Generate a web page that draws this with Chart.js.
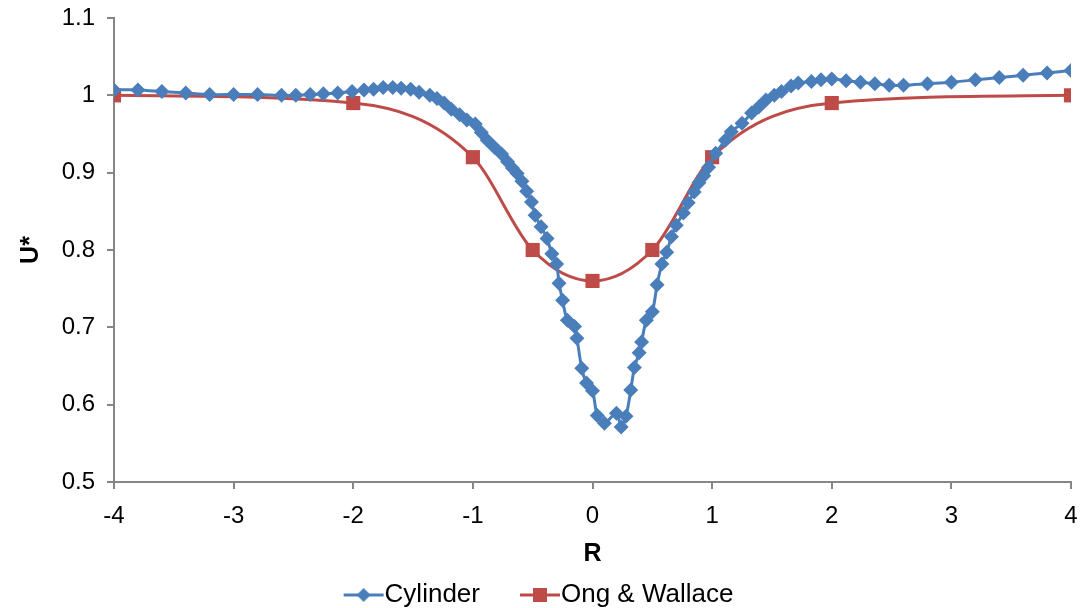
<!DOCTYPE html>
<html>
<head>
<meta charset="utf-8">
<script src="https://cdn.jsdelivr.net/npm/chart.js@4.4.1/dist/chart.umd.min.js"></script>
<style>
  body { margin: 0; background: #fff; }
  #wrap { width: 1081px; height: 608px; }
</style>
</head>
<body>
<div id="wrap"><canvas id="chart"></canvas></div>
<script>
// Cylinder profile
var cylR = [-4, -3.8, -3.6, -3.4, -3.2, -3.0, -2.8, -2.6, -2.48, -2.36, -2.25, -2.13, -2.01, -1.91, -1.83,
  -1.75, -1.67, -1.6, -1.52, -1.45, -1.36, -1.3, -1.24, -1.18, -1.11, -1.05, -0.98, -0.93, -0.88, -0.82,
  -0.76, -0.71, -0.67, -0.63, -0.59, -0.55, -0.51, -0.48, -0.43, -0.38, -0.34, -0.3, -0.28, -0.25, -0.21,
  -0.15, -0.13, -0.09, -0.05, 0.0, 0.04, 0.1, 0.2, 0.24, 0.28, 0.32, 0.35, 0.39, 0.41, 0.45, 0.5, 0.54,
  0.58, 0.62, 0.66, 0.7, 0.76, 0.8, 0.85, 0.89, 0.93, 0.97, 1.03, 1.11, 1.16, 1.25, 1.33, 1.39, 1.45,
  1.52, 1.58, 1.66, 1.72, 1.83, 1.91, 2.0, 2.12, 2.24, 2.36, 2.48, 2.6, 2.8, 3.0, 3.2, 3.4, 3.6, 3.8, 4.0];
var cylU = [1.007, 1.007, 1.005, 1.003, 1.001, 1.001, 1.001, 1.0, 1.0, 1.001, 1.002, 1.003, 1.005, 1.007, 1.008,
  1.01, 1.01, 1.009, 1.008, 1.004, 1.0, 0.996, 0.99, 0.982, 0.975, 0.968, 0.963, 0.952, 0.942, 0.933,
  0.924, 0.914, 0.906, 0.899, 0.889, 0.876, 0.862, 0.845, 0.83, 0.815, 0.795, 0.782, 0.757, 0.735, 0.709,
  0.701, 0.686, 0.647, 0.628, 0.618, 0.586, 0.576, 0.589, 0.571, 0.585, 0.619, 0.648, 0.667, 0.681, 0.709, 0.72, 0.755,
  0.782, 0.797, 0.817, 0.832, 0.848, 0.861, 0.875, 0.887, 0.896, 0.907, 0.925, 0.942, 0.953, 0.964, 0.977, 0.985, 0.994,
  1.0, 1.005, 1.012, 1.016, 1.018, 1.02, 1.021, 1.019, 1.017, 1.015, 1.013, 1.013, 1.015, 1.017, 1.02, 1.023, 1.026, 1.029, 1.032];

// Ong & Wallace
var ongR = [-4, -2, -1, -0.5, 0, 0.5, 1, 2, 4];
var ongU = [1.0, 0.99, 0.92, 0.80, 0.76, 0.80, 0.92, 0.99, 1.0];

var xTicks = [-4, -3, -2, -1, 0, 1, 2, 3, 4];
var yTicks = [0.5, 0.6, 0.7, 0.8, 0.9, 1, 1.1];

var blue = "#4A7EBB";
var red = "#BE4B48";
var axisGrey = "#868686";
var font = "'Liberation Sans', Arial, sans-serif";

function toPoints(xs, ys) {
  return xs.map(function (x, i) { return {x: x, y: ys[i]}; });
}

// line+marker icon for the legend (canvas is wider so the visible part sits next to the text)
function legendIcon(color, shape) {
  var c = document.createElement("canvas");
  c.width = 56; c.height = 20;
  var g = c.getContext("2d");
  g.strokeStyle = color; g.lineWidth = 3;
  g.beginPath(); g.moveTo(14, 10); g.lineTo(54, 10); g.stroke();
  g.fillStyle = color;
  g.beginPath();
  if (shape == "diamond") {
    g.moveTo(34, 3); g.lineTo(41, 10); g.lineTo(34, 17); g.lineTo(27, 10);
  } else {
    g.rect(27, 3, 14, 14);
  }
  g.closePath(); g.fill();
  return c;
}

var icons = [legendIcon(blue, "diamond"), legendIcon(red, "square")];

new Chart("chart", {
  type: "line",
  data: {
    datasets: [{
      label: "Cylinder",
      data: toPoints(cylR, cylU),
      borderColor: blue,
      backgroundColor: blue,
      borderWidth: 3,
      pointStyle: "rectRot",
      pointRadius: 7.5,
      pointBorderWidth: 0,
      tension: 0.3,
      fill: false
    }, {
      label: "Ong & Wallace",
      data: toPoints(ongR, ongU),
      borderColor: red,
      backgroundColor: red,
      borderWidth: 3,
      pointStyle: "rect",
      pointRadius: 10,
      pointBorderWidth: 0,
      cubicInterpolationMode: "monotone",
      fill: false
    }]
  },
  options: {
    responsive: true,
    maintainAspectRatio: false,
    animation: false,
    layout: {padding: {top: 13, right: 4, left: 0, bottom: -10}},
    plugins: {
      tooltip: {enabled: false},
      legend: {
        position: "bottom",
        labels: {
          color: "#000",
          font: {family: font, size: 26},
          usePointStyle: true,
          pointStyleWidth: 28,
          padding: 40,
          generateLabels: function (chart) {
            return chart.data.datasets.map(function (ds, i) {
              return {text: ds.label, pointStyle: icons[i], datasetIndex: i,
                      fillStyle: ds.borderColor, strokeStyle: ds.borderColor, lineWidth: 0};
            });
          }
        }
      }
    },
    scales: {
      x: {
        type: "linear",
        min: -4, max: 4,
        afterBuildTicks: function (s) { s.ticks = xTicks.map(function (v) { return {value: v}; }); },
        afterFit: function (s) { s.height = 60; },
        ticks: {color: "#000", font: {family: font, size: 24, lineHeight: 2.25}, padding: 0, maxRotation: 0},
        grid: {drawOnChartArea: false, drawTicks: true, tickLength: 7, color: axisGrey, lineWidth: 2},
        border: {color: axisGrey, width: 2},
        title: {display: true, text: "R", color: "#000", font: {family: font, size: 25, weight: "bold"}, padding: {top: 4, bottom: -27}}
      },
      y: {
        min: 0.5, max: 1.1,
        afterBuildTicks: function (s) { s.ticks = yTicks.map(function (v) { return {value: v}; }); },
        afterFit: function (s) { s.width = 114; },
        ticks: {color: "#000", font: {family: font, size: 24, lineHeight: 0.5}, padding: 12,
                callback: function (v) { return String(+v.toFixed(1)); }},
        grid: {drawOnChartArea: false, drawTicks: true, tickLength: 7, color: axisGrey, lineWidth: 2},
        border: {color: axisGrey, width: 2},
        title: {display: true, text: "U*", color: "#000", font: {family: font, size: 25, weight: "bold"}, padding: {top: 16, bottom: 4}}
      }
    }
  }
});
</script>
</body>
</html>
